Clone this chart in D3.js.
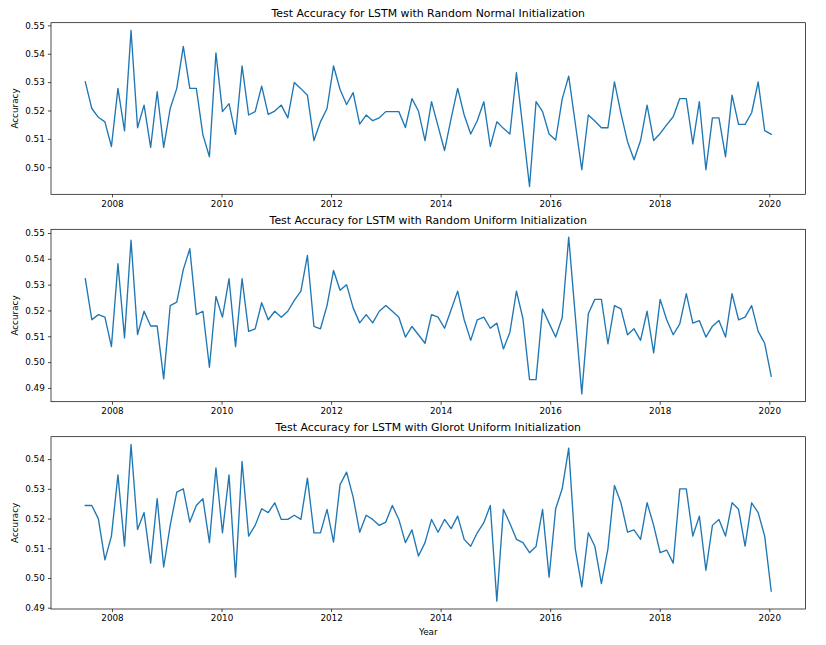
<!DOCTYPE html>
<html><head><meta charset="utf-8">
<script src="https://cdn.jsdelivr.net/npm/d3@7"></script>
<style>
body{margin:0;background:#fff}
svg text{font-family:"DejaVu Sans",sans-serif;fill:#000}
</style>
</head><body><svg id="c" width="826" height="645"></svg>
<script>
// x positions (decimal years) of each test point
const years = [
2007.513,2007.632,2007.752,2007.871,2007.990,2008.109,2008.229,2008.348,2008.467,2008.586,
2008.706,2008.825,2008.944,2009.063,2009.183,2009.302,2009.421,2009.540,2009.660,2009.779,
2009.898,2010.017,2010.137,2010.256,2010.375,2010.495,2010.614,2010.733,2010.852,2010.972,
2011.091,2011.210,2011.329,2011.449,2011.568,2011.687,2011.806,2011.926,2012.045,2012.164,
2012.283,2012.403,2012.522,2012.641,2012.760,2012.880,2012.999,2013.118,2013.237,2013.357,
2013.476,2013.595,2013.715,2013.834,2013.953,2014.072,2014.192,2014.311,2014.430,2014.549,
2014.669,2014.788,2014.907,2015.026,2015.146,2015.265,2015.384,2015.503,2015.623,2015.742,
2015.861,2015.980,2016.100,2016.219,2016.338,2016.458,2016.577,2016.696,2016.815,2016.935,
2017.054,2017.173,2017.292,2017.412,2017.531,2017.650,2017.769,2017.889,2018.008,2018.127,
2018.246,2018.366,2018.485,2018.604,2018.723,2018.843,2018.962,2019.081,2019.201,2019.320,
2019.439,2019.558,2019.678,2019.797,2019.916,2020.035];

const randomNormal = [
0.5301,0.5207,0.5176,0.5160,0.5073,0.5278,0.5128,0.5482,0.5139,0.5219,
0.5070,0.5266,0.5070,0.5207,0.5278,0.5426,0.5278,0.5278,0.5114,0.5037,
0.5403,0.5196,0.5224,0.5116,0.5357,0.5184,0.5196,0.5286,0.5186,0.5198,
0.5219,0.5174,0.5299,0.5277,0.5254,0.5094,0.5160,0.5207,0.5357,0.5274,
0.5221,0.5263,0.5152,0.5184,0.5164,0.5174,0.5196,0.5196,0.5196,0.5140,
0.5242,0.5198,0.5094,0.5231,0.5145,0.5059,0.5172,0.5278,0.5184,0.5117,
0.5164,0.5231,0.5073,0.5160,0.5137,0.5117,0.5333,0.5135,0.4932,0.5231,
0.5196,0.5117,0.5096,0.5240,0.5321,0.5155,0.4991,0.5184,0.5163,0.5139,
0.5139,0.5301,0.5190,0.5090,0.5026,0.5094,0.5219,0.5094,0.5119,0.5149,
0.5178,0.5242,0.5242,0.5082,0.5231,0.4991,0.5174,0.5174,0.5037,0.5254,
0.5151,0.5151,0.5192,0.5301,0.5129,0.5116];

const randomUniform = [
0.5323,0.5164,0.5184,0.5174,0.5060,0.5381,0.5094,0.5472,0.5107,0.5197,
0.5140,0.5140,0.4935,0.5219,0.5232,0.5358,0.5439,0.5184,0.5197,0.4980,
0.5254,0.5174,0.5323,0.5060,0.5323,0.5119,0.5129,0.5230,0.5164,0.5197,
0.5174,0.5197,0.5239,0.5275,0.5413,0.5138,0.5129,0.5219,0.5355,0.5278,
0.5300,0.5210,0.5152,0.5184,0.5152,0.5197,0.5219,0.5197,0.5174,0.5097,
0.5138,0.5106,0.5073,0.5184,0.5174,0.5131,0.5203,0.5275,0.5164,0.5084,
0.5164,0.5174,0.5131,0.5151,0.5051,0.5116,0.5275,0.5168,0.4932,0.4932,
0.5206,0.5151,0.5097,0.5172,0.5484,0.5180,0.4877,0.5187,0.5243,0.5243,
0.5071,0.5219,0.5206,0.5106,0.5129,0.5084,0.5197,0.5036,0.5243,0.5164,
0.5106,0.5148,0.5265,0.5151,0.5161,0.5097,0.5139,0.5161,0.5097,0.5265,
0.5164,0.5174,0.5219,0.5119,0.5073,0.4945];

const glorotUniform = [
0.5244,0.5244,0.5199,0.5061,0.5141,0.5347,0.5107,0.5449,0.5163,0.5220,
0.5050,0.5267,0.5037,0.5177,0.5289,0.5300,0.5188,0.5244,0.5267,0.5119,
0.5370,0.5152,0.5347,0.5003,0.5392,0.5141,0.5177,0.5233,0.5220,0.5253,
0.5197,0.5197,0.5211,0.5197,0.5336,0.5152,0.5152,0.5231,0.5121,0.5314,
0.5356,0.5272,0.5154,0.5211,0.5197,0.5177,0.5188,0.5244,0.5197,0.5119,
0.5162,0.5074,0.5119,0.5197,0.5154,0.5197,0.5166,0.5208,0.5130,0.5107,
0.5152,0.5186,0.5244,0.4922,0.5231,0.5183,0.5130,0.5119,0.5085,0.5106,
0.5231,0.5003,0.5233,0.5300,0.5437,0.5098,0.4970,0.5152,0.5107,0.4981,
0.5098,0.5311,0.5253,0.5154,0.5162,0.5130,0.5253,0.5177,0.5085,0.5094,
0.5050,0.5300,0.5300,0.5141,0.5208,0.5026,0.5177,0.5197,0.5141,0.5253,
0.5231,0.5107,0.5253,0.5220,0.5141,0.4956];

const titles = [
  "Test Accuracy for LSTM with Random Normal Initialization",
  "Test Accuracy for LSTM with Random Uniform Initialization",
  "Test Accuracy for LSTM with Glorot Uniform Initialization"];
const xTickYears = [2008, 2010, 2012, 2014, 2016, 2018, 2020];
const yTicksNormal  = [0.50, 0.51, 0.52, 0.53, 0.54, 0.55];
const yTicksUniform = [0.49, 0.50, 0.51, 0.52, 0.53, 0.54, 0.55];
const yTicksGlorot  = [0.49, 0.50, 0.51, 0.52, 0.53, 0.54];
const yLabel = "Accuracy";
const xLabel = "Year";

const panels = [
  {title: titles[0], values: randomNormal,  yTicks: yTicksNormal,  top: 22.7,  bottom: 194.3},
  {title: titles[1], values: randomUniform, yTicks: yTicksUniform, top: 229.3, bottom: 401.7},
  {title: titles[2], values: glorotUniform, yTicks: yTicksGlorot,  top: 436.7, bottom: 609.0}
];

const left = 51, right = 805.5;
const tickLen = 3.1, tickPad = 3.1;
const svg = d3.select("#c");

function padded(ext){ const r = ext[1]-ext[0]; return [ext[0]-0.05*r, ext[1]+0.05*r]; }

const x = d3.scaleLinear().domain(padded(d3.extent(years))).range([left, right]);

panels.forEach((p, k) => {
  const y = d3.scaleLinear().domain(padded(d3.extent(p.values))).range([p.bottom, p.top]);
  const g = svg.append("g");

  const data = years.map((yr, i) => [yr, p.values[i]]);
  g.append("path")
    .datum(data)
    .attr("fill", "none")
    .attr("stroke", "#1f77b4")
    .attr("stroke-width", 1.35)
    .attr("stroke-linejoin", "round")
    .attr("stroke-linecap", "square")
    .attr("d", d3.line().x(d => x(d[0])).y(d => y(d[1])));

  const ax = g.append("g").attr("transform", `translate(0,${p.bottom})`)
    .call(d3.axisBottom(x).tickValues(xTickYears).tickFormat(d3.format("d"))
      .tickSize(tickLen).tickSizeOuter(0).tickPadding(tickPad));
  const ay = g.append("g").attr("transform", `translate(${left},0)`)
    .call(d3.axisLeft(y).tickValues(p.yTicks).tickFormat(d3.format(".2f"))
      .tickSize(tickLen).tickSizeOuter(0).tickPadding(tickPad));
  [ax, ay].forEach(a => {
    a.select(".domain").remove();
    a.selectAll(".tick line").attr("stroke", "#000").attr("stroke-width", 0.7);
    a.selectAll(".tick text").attr("font-size", "8.8px").attr("fill", "#000")
      .style("font-family", '"DejaVu Sans", sans-serif');
  });

  g.append("rect")
    .attr("x", left).attr("y", p.top)
    .attr("width", right - left).attr("height", p.bottom - p.top)
    .attr("fill", "none").attr("stroke", "#000").attr("stroke-width", 0.7);

  g.append("text")
    .attr("x", (left + right) / 2).attr("y", p.top - 5.5)
    .attr("text-anchor", "middle").attr("font-size", "10.9px")
    .text(p.title);

  g.append("text")
    .attr("transform", `translate(18,${(p.top + p.bottom) / 2}) rotate(-90)`)
    .attr("text-anchor", "middle").attr("font-size", "8.8px")
    .text(yLabel);
});

svg.append("text")
  .attr("x", (left + right) / 2).attr("y", 635)
  .attr("text-anchor", "middle").attr("font-size", "8.8px")
  .text(xLabel);
</script>
</body></html>
